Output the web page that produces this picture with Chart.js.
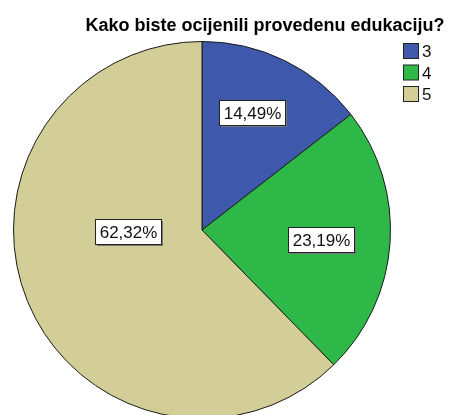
<!DOCTYPE html>
<html>
<head>
<meta charset="utf-8">
<script src="https://cdn.jsdelivr.net/npm/chart.js@4"></script>
<style>
  html, body { margin: 0; padding: 0; background: #fff; overflow: hidden; }
  #wrap { width: 450px; height: 415px; overflow: hidden; }
</style>
</head>
<body>
<div id="wrap"><canvas id="pieChart" width="450" height="430"></canvas></div>
<script>
const chartTitle = "Kako biste ocijenili provedenu edukaciju?";
const categories = ["3", "4", "5"];
const percentValues = [14.49, 23.19, 62.32];
const sliceColors = ["#3E58AC", "#2EB848", "#D3CE97"];

const ctx = document.getElementById("pieChart").getContext("2d");

// label anchor relative to pie centre, in units of radius
const labelSpots = [[0.265, -0.624], [0.63, 0.048], [-0.39, 0.01]];

const spssDecor = {
    id: "spssDecor",
    afterDatasetsDraw(chart) {
        const c = chart.ctx;
        const meta = chart.getDatasetMeta(0);
        c.save();
        // slice labels
        c.font = "17px 'Liberation Sans', Arial, sans-serif";
        c.textBaseline = "middle";
        c.textAlign = "center";
        meta.data.forEach((arc, i) => {
            const txt = percentValues[i].toFixed(2).replace(".", ",") + "%";
            const x = arc.x + labelSpots[i][0] * arc.outerRadius;
            const y = arc.y + labelSpots[i][1] * arc.outerRadius;
            const w = Math.round(c.measureText(txt).width) + 8, h = 25;
            const bx = Math.round(x - w / 2) + 0.5, by = Math.round(y - h / 2) + 0.5;
            c.fillStyle = "#777";
            c.fillRect(bx + 1.5, by + 1.5, w, h);
            c.fillStyle = "#fff";
            c.fillRect(bx, by, w, h);
            c.strokeStyle = "#222";
            c.lineWidth = 1;
            c.strokeRect(bx, by, w, h);
            c.fillStyle = "#111";
            c.fillText(txt, bx + w / 2, by + h / 2 + 1);
        });
        // title
        c.font = "bold 18px 'Liberation Sans', Arial, sans-serif";
        c.textAlign = "center";
        c.textBaseline = "alphabetic";
        c.fillStyle = "#000";
        c.fillText(chartTitle, 265, 31);
        // legend
        c.font = "17px 'Liberation Sans', Arial, sans-serif";
        c.textAlign = "left";
        c.textBaseline = "middle";
        categories.forEach((cat, i) => {
            const y = 43.5 + i * 21.5;
            c.fillStyle = sliceColors[i];
            c.fillRect(403.5, y, 15, 15);
            c.strokeStyle = "#222";
            c.strokeRect(403.5, y, 15, 15);
            c.fillStyle = "#111";
            c.fillText(cat, 422, y + 9);
        });
        c.restore();
    }
};

new Chart(ctx, {
    type: "pie",
    data: {
        labels: categories,
        datasets: [{
            data: percentValues,
            backgroundColor: sliceColors,
            borderColor: "#1a1a1a",
            borderWidth: 1
        }]
    },
    options: {
        responsive: false,
        animation: false,
        layout: { padding: { left: 13, right: 59, top: 41, bottom: 11 } },
        plugins: {
            legend: { display: false },
            tooltip: { enabled: false },
            title: { display: false }
        }
    },
    plugins: [spssDecor]
});
</script>
</body>
</html>
